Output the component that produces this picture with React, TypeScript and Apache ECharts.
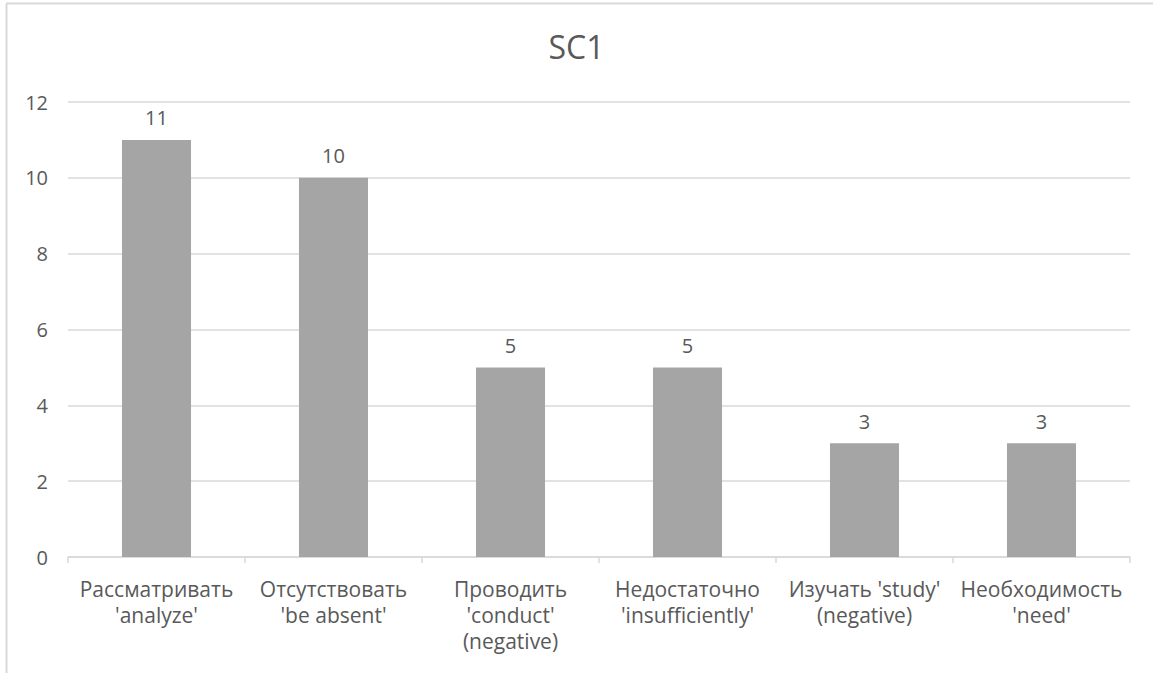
import React, { useEffect, useRef } from "react";
import * as echarts from "echarts";

const categories = [
  "Рассматривать\n'analyze'",
  "Отсутствовать\n'be absent'",
  "Проводить\n'conduct'\n(negative)",
  "Недостаточно\n'insufficiently'",
  "Изучать 'study'\n(negative)",
  "Необходимость\n'need'",
];
const values = [11, 10, 5, 5, 3, 3];
const yTicks = [0, 2, 4, 6, 8, 10, 12];
const title = "SC1";

export default function App() {
  const ref = useRef<HTMLDivElement>(null);
  useEffect(() => {
    if (!ref.current) return;
    const chart = echarts.init(ref.current, undefined, { renderer: "svg" });
    const font = "'Open Sans', 'Noto Sans', sans-serif";
    chart.setOption({
      animation: false,
      backgroundColor: "#ffffff",
      textStyle: { fontFamily: font },
      title: {
        text: title,
        left: "center",
        top: 25,
        textStyle: { fontFamily: font, fontSize: 32, fontWeight: "normal", color: "#595959" },
      },
      graphic: [
        { type: "line", shape: { x1: 6.5, y1: 3.5, x2: 6.5, y2: 673 }, style: { stroke: "#d9d9d9", lineWidth: 2 } },
        { type: "line", shape: { x1: 6, y1: 3.5, x2: 1153, y2: 3.5 }, style: { stroke: "#d9d9d9", lineWidth: 2 } },
      ],
      grid: { left: 68, right: 23, top: 102, bottom: 116, containLabel: false },
      xAxis: {
        type: "category",
        data: categories,
        axisLine: { lineStyle: { color: "#d9d9d9", width: 1.5 } },
        axisTick: { show: true, length: 6, lineStyle: { color: "#d9d9d9", width: 1.5 } },
        axisLabel: { color: "#595959", fontSize: 21, lineHeight: 26, margin: 19, interval: 0, fontFamily: font },
      },
      yAxis: {
        type: "value",
        min: yTicks[0],
        max: yTicks[yTicks.length - 1],
        interval: 2,
        axisLine: { show: false },
        axisTick: { show: false },
        splitLine: { lineStyle: { color: "#d9d9d9", width: 1.5 } },
        axisLabel: { color: "#595959", fontSize: 20, margin: 20, fontFamily: font },
      },
      series: [
        {
          type: "bar",
          data: values,
          barWidth: "39%",
          itemStyle: { color: "#a5a5a5" },
          label: { show: true, position: "top", distance: 12, color: "#595959", fontSize: 20, fontFamily: font },
        },
      ],
    });
    return () => chart.dispose();
  }, []);
  return <div ref={ref} style={{ position: "fixed", left: 0, top: 0, width: 1153, height: 673 }} />;
}
